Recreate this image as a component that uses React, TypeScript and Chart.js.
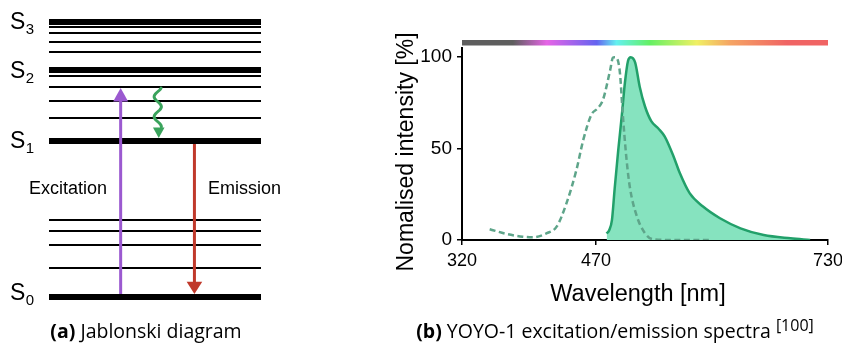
import { useEffect, useRef } from "react";
import { Chart, registerables } from "chart.js";

Chart.register(...registerables);

const SANS = '"Liberation Sans", Arial, sans-serif';
const CAPTION_FONT = '"Open Sans", sans-serif';

// ---------- (a) Jablonski diagram (energies in arbitrary units, S0 = 0) ----------
const stateSubscripts = ["0", "1", "2", "3"];
const stateEnergies = [0, 156, 227, 275];
const vibrationalEnergies = [29, 52, 66, 77, 179, 196, 210, 221, 245, 255, 264, 270];
const excitationTransition = [3, 209]; // [from, to]
const relaxationTransition = [209, 159];
const emissionTransition = [153, 3];

// ---------- (b) YOYO-1 spectra ----------
const wavelengthTicks = [320, 470, 730];
const intensityTicks = [0, 50, 100];

const excitationWavelengths = [351, 370, 388, 400, 415, 426, 437, 448, 456, 465, 472, 478, 486, 489, 491, 494, 497, 500, 504, 508, 516, 525, 534, 560, 598];
const excitationIntensity = [5.9, 3.3, 1.8, 1.5, 3.7, 7.3, 20, 38, 55, 68.6, 72, 76.8, 93, 99.7, 100, 99, 91, 69.5, 45.7, 29, 12.8, 3.7, 0.4, 0, 0];

const emissionWavelengths = [482, 485, 488, 491, 495, 499, 502.5, 506, 509, 514, 519, 525, 532, 540, 547, 557, 564, 575, 590, 609, 632, 658, 688, 710];
const emissionIntensity = [3.5, 5.5, 11, 28, 49, 68, 86, 98, 100, 97, 84, 73, 65, 61, 56.7, 45.7, 36.6, 25.6, 18.3, 11.9, 6.4, 2.7, 0.9, 0];

// visible-spectrum colour bar above the plot
const spectrumWavelengths = [320, 377, 415, 471, 493, 530, 583, 620, 684, 730];
const spectrumColors = ["#5e5e5e", "#5e5e5e", "#e664e6", "#6464f0", "#64f0f0", "#64f064", "#f0f064", "#f5a564", "#f06464", "#f06464"];

// layout of the Jablonski arrows (x in units of level width)
const excitationColumn = 0.338;
const relaxationColumn = 0.513;
const emissionColumn = 0.686;
const stateLabelShift = [-5, -1, 0, -1];

const PURPLE = "#9b59d0";
const RED = "#c0392b";
const GREEN = "#3aa35c";

type Part = { text: string; font: string; rise?: number };

function drawParts(ctx: CanvasRenderingContext2D, parts: Part[], cx: number, baseline: number) {
  ctx.save();
  ctx.fillStyle = "#000";
  ctx.textAlign = "left";
  ctx.textBaseline = "alphabetic";
  let total = 0;
  const widths = parts.map((p) => {
    ctx.font = p.font;
    const w = ctx.measureText(p.text).width;
    total += w;
    return w;
  });
  let x = cx - total / 2;
  parts.forEach((p, i) => {
    ctx.font = p.font;
    ctx.fillText(p.text, x, baseline - (p.rise || 0));
    x += widths[i];
  });
  ctx.restore();
}

function arrowHead(ctx: CanvasRenderingContext2D, x: number, tipY: number, baseY: number, half: number, color: string) {
  ctx.save();
  ctx.fillStyle = color;
  ctx.beginPath();
  ctx.moveTo(x, tipY);
  ctx.lineTo(x - half, baseY);
  ctx.lineTo(x + half, baseY);
  ctx.closePath();
  ctx.fill();
  ctx.restore();
}

const jablonskiDecor = {
  id: "jablonskiDecor",
  afterDatasetsDraw(chart: any) {
    const ctx: CanvasRenderingContext2D = chart.ctx;
    const xs = chart.scales.x;
    const ys = chart.scales.y;

    // arrow heads
    const exX = xs.getPixelForValue(excitationColumn);
    const exTip = ys.getPixelForValue(excitationTransition[1]);
    arrowHead(ctx, exX, exTip, exTip + 13.4, 7.5, PURPLE);

    const emX = xs.getPixelForValue(emissionColumn);
    const emTip = ys.getPixelForValue(emissionTransition[1]);
    arrowHead(ctx, emX, emTip, emTip - 12.3, 7.8, RED);

    // wavy non-radiative relaxation
    const rx = xs.getPixelForValue(relaxationColumn);
    const rTop = ys.getPixelForValue(relaxationTransition[0]);
    const rTip = ys.getPixelForValue(relaxationTransition[1]);
    const rBase = rTip - 10.5;
    ctx.save();
    ctx.strokeStyle = GREEN;
    ctx.lineWidth = 3;
    ctx.lineCap = "round";
    ctx.beginPath();
    for (let y = rTop; y <= rBase; y += 0.5) {
      const x = rx - 3.6 * Math.sin((2 * Math.PI * (y - rTop - 3.7)) / 20);
      if (y === rTop) ctx.moveTo(x, y);
      else ctx.lineTo(x, y);
    }
    ctx.stroke();
    ctx.restore();
    arrowHead(ctx, rx + 1, rTip, rBase, 5.8, GREEN);

    // state labels
    ctx.save();
    ctx.fillStyle = "#000";
    ctx.textBaseline = "alphabetic";
    ctx.textAlign = "left";
    stateEnergies.forEach((e, i) => {
      const cy = ys.getPixelForValue(e) + stateLabelShift[i];
      const base = cy + 8.2;
      ctx.font = `23px ${SANS}`;
      ctx.fillText("S", 10, base);
      const w = ctx.measureText("S").width;
      ctx.font = `15px ${SANS}`;
      ctx.fillText(stateSubscripts[i], 10 + w + 0.5, base + 5);
    });
    ctx.font = `18px ${SANS}`;
    ctx.fillText("Excitation", 29, 193.5);
    ctx.fillText("Emission", 208, 193.5);
    ctx.restore();

    drawParts(
      ctx,
      [
        { text: "(a)", font: `bold 19.5px ${CAPTION_FONT}` },
        { text: " Jablonski diagram", font: `19.5px ${CAPTION_FONT}` },
      ],
      146,
      338
    );
  },
};

const spectraDecor = {
  id: "spectraDecor",
  beforeDatasetsDraw(chart: any) {
    const ctx: CanvasRenderingContext2D = chart.ctx;
    const xs = chart.scales.x;
    const { top } = chart.chartArea;
    const x0 = xs.getPixelForValue(wavelengthTicks[0]);
    const x1 = xs.getPixelForValue(wavelengthTicks[wavelengthTicks.length - 1]);
    const grad = ctx.createLinearGradient(x0, 0, x1, 0);
    spectrumWavelengths.forEach((wl, i) => {
      grad.addColorStop((xs.getPixelForValue(wl) - x0) / (x1 - x0), spectrumColors[i]);
    });
    ctx.save();
    ctx.fillStyle = grad;
    ctx.fillRect(x0, top - 8, x1 - x0, 5.5);
    ctx.restore();
  },
  afterDraw(chart: any) {
    const ctx: CanvasRenderingContext2D = chart.ctx;
    ctx.save();
    ctx.fillStyle = "#000";
    ctx.font = `23px ${SANS}`;
    ctx.textAlign = "center";
    ctx.textBaseline = "middle";
    ctx.translate(27, 152);
    ctx.rotate(-Math.PI / 2);
    ctx.fillText("Nomalised intensity [%]", 0, 0);
    ctx.restore();

    ctx.save();
    ctx.fillStyle = "#000";
    ctx.font = `23.5px ${SANS}`;
    ctx.textAlign = "center";
    ctx.textBaseline = "alphabetic";
    ctx.fillText("Wavelength [nm]", 258, 300.5);
    ctx.restore();

    drawParts(
      ctx,
      [
        { text: "(b)", font: `bold 19.5px ${CAPTION_FONT}` },
        { text: " YOYO-1 excitation/emission spectra ", font: `19.5px ${CAPTION_FONT}` },
        { text: "[100]", font: `16px ${CAPTION_FONT}`, rise: 7 },
      ],
      235,
      338
    );
  },
};

function levelDataset(energy: number, thick: boolean) {
  return {
    data: [
      { x: 0, y: energy },
      { x: 1, y: energy },
    ],
    borderColor: "#000",
    borderWidth: thick ? 6 : 2,
    pointRadius: 0,
    clip: false as const,
    order: 2,
  };
}

function arrowShaft(column: number, from: number, to: number, color: string) {
  return {
    data: [
      { x: column, y: from },
      { x: column, y: to },
    ],
    borderColor: color,
    borderWidth: 3,
    pointRadius: 0,
    clip: false as const,
    order: 0,
  };
}

export default function App() {
  const jabRef = useRef<HTMLCanvasElement>(null);
  const specRef = useRef<HTMLCanvasElement>(null);

  useEffect(() => {
    const jab = new Chart(jabRef.current as HTMLCanvasElement, {
      type: "line",
      data: {
        datasets: [
          arrowShaft(excitationColumn, excitationTransition[0], excitationTransition[1] - 13, PURPLE),
          arrowShaft(emissionColumn, emissionTransition[0], emissionTransition[1] + 12, RED),
          ...stateEnergies.map((e) => levelDataset(e, true)),
          ...vibrationalEnergies.map((e) => levelDataset(e, false)),
        ] as any,
      },
      options: {
        animation: false,
        responsive: true,
        maintainAspectRatio: false,
        devicePixelRatio: 1,
        events: [],
        layout: { padding: { left: 49, right: 119, top: 12, bottom: 40 } },
        plugins: { legend: { display: false }, tooltip: { enabled: false } },
        scales: {
          x: { type: "linear", min: 0, max: 1, display: false },
          y: { type: "linear", min: -10, max: 285, display: false },
        },
      },
      plugins: [jablonskiDecor],
    });

    const spec = new Chart(specRef.current as HTMLCanvasElement, {
      type: "line",
      data: {
        datasets: [
          {
            label: "Excitation",
            data: excitationWavelengths.map((x, i) => ({ x, y: excitationIntensity[i] })),
            borderColor: "#5ea58a",
            borderWidth: 2.5,
            borderDash: [6, 3.5],
            pointRadius: 0,
            fill: false,
            cubicInterpolationMode: "monotone",
          },
          {
            label: "Emission",
            data: emissionWavelengths.map((x, i) => ({ x, y: emissionIntensity[i] })),
            borderColor: "#22a06a",
            backgroundColor: "#86e3bf",
            borderWidth: 2.5,
            pointRadius: 0,
            fill: "origin",
            cubicInterpolationMode: "monotone",
          },
        ] as any,
      },
      options: {
        animation: false,
        responsive: true,
        maintainAspectRatio: false,
        devicePixelRatio: 1,
        events: [],
        layout: { padding: { left: 0, right: 14, top: 48, bottom: 0 } },
        plugins: { legend: { display: false }, tooltip: { enabled: false } },
        scales: {
          x: {
            type: "linear",
            min: 320,
            max: 730,
            afterBuildTicks: (s: any) => {
              s.ticks = wavelengthTicks.map((value) => ({ value }));
            },
            afterFit: (s: any) => {
              s.height = 107;
              s.paddingLeft = 0;
              s.paddingRight = 0;
            },
            grid: { drawOnChartArea: false, drawTicks: true, tickLength: 5, color: "#000", lineWidth: 1.5 },
            border: { display: true, color: "#000", width: 2 },
            ticks: { color: "#000", font: { family: SANS, size: 18 }, padding: 5, maxRotation: 0, autoSkip: false },
          },
          y: {
            type: "linear",
            min: 0,
            max: 105,
            afterBuildTicks: (s: any) => {
              s.ticks = intensityTicks.map((value) => ({ value }));
            },
            afterFit: (s: any) => {
              s.width = 82;
            },
            grid: { drawOnChartArea: false, drawTicks: true, tickLength: 5, color: "#000", lineWidth: 1.5 },
            border: { display: true, color: "#000", width: 2 },
            ticks: { color: "#000", font: { family: SANS, size: 19 }, padding: 5 },
          },
        },
      },
      plugins: [spectraDecor],
    });

    return () => {
      jab.destroy();
      spec.destroy();
    };
  }, []);

  return (
    <div style={{ position: "absolute", left: 0, top: 0, width: 842, height: 347, background: "#fff" }}>
      <div style={{ position: "absolute", left: 0, top: 0, width: 380, height: 347 }}>
        <canvas ref={jabRef} />
      </div>
      <div style={{ position: "absolute", left: 380, top: 0, width: 462, height: 347 }}>
        <canvas ref={specRef} />
      </div>
    </div>
  );
}
